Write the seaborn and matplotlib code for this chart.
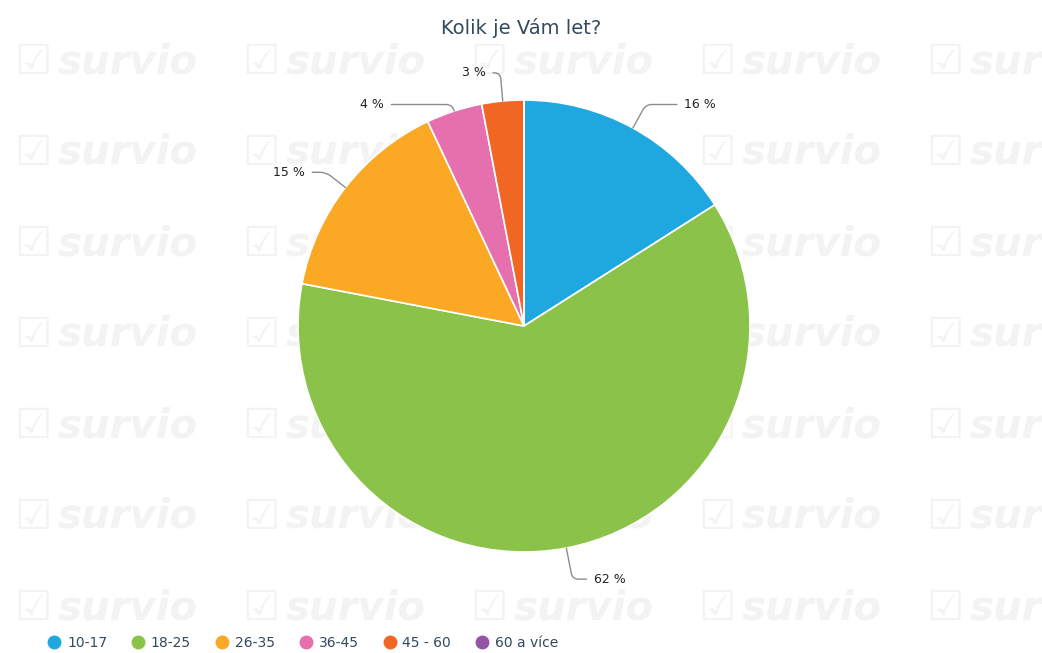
import matplotlib
matplotlib.use("Agg")
import matplotlib.pyplot as plt
import seaborn as sns
import numpy as np

# data
categories = ["10-17", "18-25", "26-35", "36-45", "45 - 60", "60 a více"]
shares = [16, 62, 15, 4, 3, 0]
colors = ["#1fa8e0", "#8bc34a", "#fba925", "#e66fae", "#f26624", "#9555a6"]
title = "Kolik je Vám let?"

# label text positions (data units, radius = 1)
label_pos = [(0.71, 0.98), (0.31, -1.12), (-0.97, 0.68), (-0.62, 0.98), (-0.17, 1.12)]
label_ha = ["left", "left", "right", "right", "right"]

sns.set_theme(style="white")
plt.rcParams["font.family"] = ["DejaVu Sans"]

fig = plt.figure(figsize=(10.42, 6.53), dpi=100)
fig.patch.set_facecolor("white")

# survio watermark tiles
for row in range(7):
    for col in range(5):
        fx = (14 + col * 228) / 1042
        fy = 1 - (62 + row * 91) / 653
        fig.text(fx, fy, "☑", fontsize=30, color="#f3f3f3", va="center", ha="left", zorder=-5)
        fig.text(fx + 44 / 1042, fy, "survio", fontsize=29, color="#f3f3f3",
                 fontweight="bold", fontstyle="italic", va="center", ha="left", zorder=-5)

# axes sized so that radius 1 = 226 px, centre at (524, 326)
R = 226
half = 1.5
side = 2 * half * R
ax = fig.add_axes([(524 - side / 2) / 1042, (653 - 326 - side / 2) / 653, side / 1042, side / 653])
ax.patch.set_alpha(0)

palette = sns.color_palette(colors)
wedges, _ = ax.pie(shares, colors=palette, startangle=90, counterclock=False,
                   radius=1, wedgeprops=dict(edgecolor="white", linewidth=1.2))
ax.set_xlim(-half, half)
ax.set_ylim(-half, half)
ax.set_aspect("equal")
ax.axis("off")

total = sum(shares)
start = 90
for i, val in enumerate(shares):
    span = 360 * val / total
    mid = np.deg2rad(start - span / 2)
    start -= span
    if val == 0:
        continue
    ex, ey = np.cos(mid), np.sin(mid)
    tx, ty = label_pos[i]
    ax.annotate(f"{val} %", xy=(ex, ey), xytext=(tx, ty), ha=label_ha[i], va="center",
                fontsize=9, color="#222222",
                arrowprops=dict(arrowstyle="-", color="#8c8c8c", lw=1,
                                shrinkA=3, shrinkB=0,
                                connectionstyle="angle,angleA=0,angleB=%d,rad=6" % round(np.rad2deg(mid))))

fig.text(0.5, 1 - 28 / 653, title, ha="center", va="center", fontsize=14, color="#34495e")

handles = [plt.Line2D([], [], marker="o", linestyle="", markersize=9,
                      markerfacecolor=c, markeredgecolor=c) for c in palette]
fig.legend(handles, categories, loc="center left", bbox_to_anchor=(35 / 1042, 1 - 643 / 653),
           ncol=6, frameon=False, fontsize=10, labelcolor="#34495e",
           handletextpad=0.4, columnspacing=1.75, handlelength=1.0)

fig.savefig("out.png", dpi=100, facecolor="white")
